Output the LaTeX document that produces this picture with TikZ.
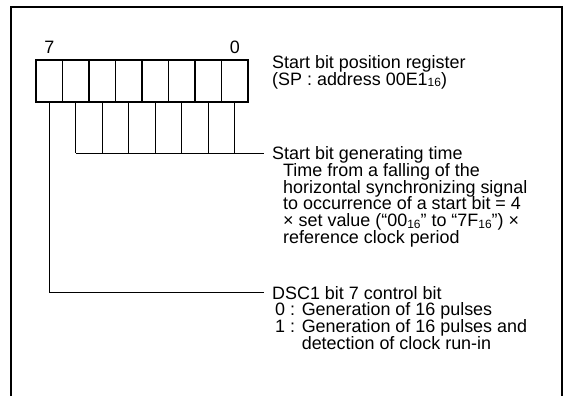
\documentclass[tikz,border=0pt]{standalone}
\usepackage{fontspec}
\setmainfont{Liberation Sans}
\usetikzlibrary{positioning}
\newcommand{\hexsub}[1]{\raisebox{-0.2ex}{\fontsize{12}{12}\selectfont #1}}

\begin{document}
\begin{tikzpicture}[x=1bp, y=-1bp,
	regcell/.style={shape=rectangle, draw, line width=1.8bp, minimum width=26.5bp, minimum height=42bp, inner sep=0pt},
	desc/.style={inner sep=0pt, anchor=base west, font=\fontsize{18}{17}\selectfont},
	title/.style={desc, text depth=0pt},
	wire/.style={line width=0.9bp}]
	\useasboundingbox (0, 0) rectangle (567, 396);
	% Frame (open at the bottom):
	\draw[line width=2bp] (10.5, 396) -- (10.5, 7) -- (561.5, 7) -- (561.5, 396);
	% Register cells, bit 7 on the left:
	\foreach \i in {0,...,7}{
		\pgfmathtruncatemacro{\b}{7-\i}
		\node[regcell] (bit\b) at (49.25+26.5*\i, 81){};
	}
	\node[desc, anchor=south, above=5bp of bit7] (msb) {7};
	\node[desc, anchor=south, above=5bp of bit0] (lsb) {0};
	% Texts, one node per line:
	\node[title] (regname) at (272, 68.5) {Start bit position register};
	\node[desc] (regaddr) at (272, 85) {(SP : address 00E1\hexsub{16})};
	\node[title] (gentitle) at (272, 159.5) {Start bit generating time};
	\foreach \txt [count=\k] in {{Time from a falling of the}, {horizontal synchronizing signal}, {to occurrence of a start bit = 4}, {× set value (“00\hexsub{16}” to “7F\hexsub{16}”) ×}, {reference clock period}}
		\node[desc] (gen\k) at (283, 159.5+16.8*\k) {\txt};
	\node[title] (ctrltitle) at (272, 299) {DSC1 bit 7 control bit};
	\node[desc] (ctrl0) at (275, 315.8) {0 : Generation of 16 pulses};
	\node[desc] (ctrl1) at (275, 332.6) {1 : Generation of 16 pulses and};
	\node[desc] (ctrl2) at (275, 349.4) {\phantom{1 : }detection of clock run-in};
	% Wires:
	\foreach \b in {6,...,0}
		\draw[wire] (bit\b.south) -- (bit\b.south |- gentitle.west);
	\draw[wire, shorten >=8bp] (bit6.south |- gentitle.west) -- (gentitle.west);
	\draw[wire, shorten >=8bp] (bit7.south) |- (ctrltitle.west);
\end{tikzpicture}
\end{document}
